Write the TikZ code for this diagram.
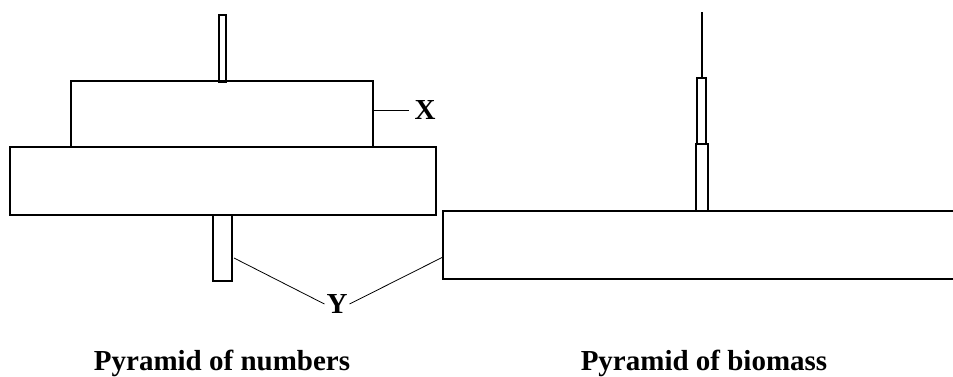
\documentclass[tikz,border=0pt]{standalone}
\usepackage{fontspec}
\setmainfont{Liberation Serif}
\begin{document}
\begin{tikzpicture}[x=1pt, y=-1pt, line width=1.2pt, line join=miter, font=\fontsize{29}{34}\selectfont\bfseries]
	\useasboundingbox (0,0) rectangle (953,376);
	% pyramid of numbers
	\foreach \a/\b/\c/\d in {219/15/226/82, 71/81/373/147, 10/147/436/215, 213/215/232/281}{\draw (\a,\b) rectangle (\c,\d);}
	% pyramid of biomass
	\foreach \a/\b/\c/\d in {697/78/706/144, 696/144/708/211}{\draw (\a,\b) rectangle (\c,\d);}
	\draw (953,211) -- (443,211) -- (443,279) -- (953,279);
	\draw (702,12) -- (702,78);
	% labels
	\node[inner sep=5pt] (X) at (425,110) {X};
	\node[inner sep=1.5pt] (Y) at (337,304) {Y};
	\coordinate (xend) at (373,110);
	\coordinate (yleft) at (234,258);
	\coordinate (yright) at (443,257);
	\draw[line width=0.8pt] (xend) -- (X.west);
	\draw[line width=0.8pt] (yleft) -- (Y.west);
	\draw[line width=0.8pt] (yright) -- (Y.east);
	\node[anchor=base, inner sep=0] (numbers) at (222,370) {Pyramid of numbers};
	\node[anchor=base, inner sep=0] (biomass) at (704,370) {Pyramid of biomass};
\end{tikzpicture}
\end{document}
